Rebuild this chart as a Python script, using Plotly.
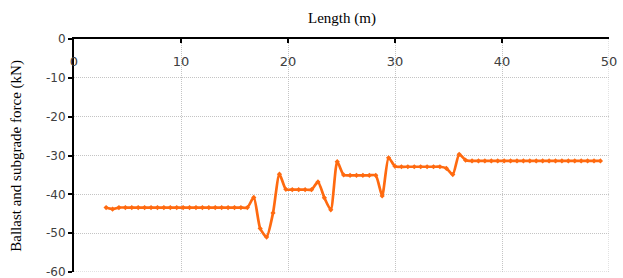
import plotly.graph_objects as go

# sleeper positions (m)
length_m = [round(3.0 + 0.6 * i, 1) for i in range(78)]
force_kN = [
    -43.4, -43.8, -43.4, -43.4, -43.4, -43.4, -43.4, -43.4, -43.4, -43.4,
    -43.4, -43.4, -43.4, -43.4, -43.4, -43.4, -43.4, -43.4, -43.4, -43.4,
    -43.4, -43.4, -43.4,
    -40.8, -48.8, -51.0, -44.8, -34.8, -38.7,
    -38.8, -38.8, -38.8, -38.8,
    -36.8, -40.9, -44.0, -31.6, -35.0,
    -35.1, -35.1, -35.1, -35.1, -35.1,
    -40.4, -30.6, -32.8,
    -32.9, -32.9, -32.9, -32.9, -32.9, -32.9, -32.9,
    -33.3, -34.9, -29.7, -31.2,
    -31.4, -31.4, -31.4, -31.4, -31.4, -31.4, -31.4, -31.4, -31.4, -31.4,
    -31.4, -31.4, -31.4, -31.4, -31.4, -31.4, -31.4, -31.4, -31.4, -31.4,
    -31.4,
]

x_ticks = [0, 10, 20, 30, 40, 50]
x_tick_labels = ["0", "10", "20", "30", "40", "50"]
y_ticks = [0, -10, -20, -30, -40, -50, -60]
y_tick_labels = ["0", "-10", "-20", "-30", "-40", "-50", "-60"]

fig = go.Figure()
fig.add_trace(go.Scatter(
    x=length_m, y=force_kN, mode="lines+markers",
    line=dict(color="#FF6A10", width=2.7, shape="spline", smoothing=0.6),
    marker=dict(color="#FF6A10", size=4, symbol="diamond"),
    showlegend=False, cliponaxis=False,
))

grid = "#C4C4C4"
gdash = "1px,1px"
serif = "'Liberation Serif', 'Times New Roman', serif"
fig.update_layout(
    width=623, height=278,
    margin=dict(l=74, r=14, t=39, b=6),
    paper_bgcolor="white", plot_bgcolor="white",
    xaxis=dict(
        range=[0, 50], tickvals=x_ticks, ticktext=x_tick_labels, side="top",
        ticklabelposition="inside", ticks="inside", ticklen=4, tickwidth=2,
        tickcolor="black", automargin=False, ticklabeloverflow="allow",
        ticklabelstandoff=14,
        showline=True, linecolor="black", linewidth=2,
        showgrid=True, gridcolor=grid, griddash=gdash, gridwidth=1,
        zeroline=False,
        tickfont=dict(family="DejaVu Sans", size=13, color="#404040"),
    ),
    yaxis=dict(
        range=[-60, 0], tickvals=y_ticks, ticktext=y_tick_labels,
        ticks="outside", ticklen=4, automargin=False,
        ticklabeloverflow="allow",
        tickwidth=2, tickcolor="black",
        showline=True, linecolor="black", linewidth=2,
        showgrid=True, gridcolor=grid, griddash=gdash, gridwidth=1,
        zeroline=False,
        tickfont=dict(family="DejaVu Sans", size=12, color="#404040"),
    ),
    annotations=[
        dict(text="Length (m)", x=0.5, y=1.09, xref="paper", yref="paper",
             xanchor="center", yanchor="middle", showarrow=False,
             font=dict(family=serif, size=15, color="black")),
        dict(text="Ballast and subgrade force (kN)", x=-0.108, y=0.5,
             xref="paper", yref="paper", textangle=-90,
             xanchor="center", yanchor="middle", showarrow=False,
             font=dict(family=serif, size=15, color="black")),
    ],
)
# right and bottom dotted border lines
fig.add_shape(type="line", xref="x", yref="y", x0=50, x1=50, y0=-60, y1=0,
              line=dict(color=grid, width=1, dash=gdash))
fig.add_shape(type="line", xref="x", yref="y", x0=0, x1=50, y0=-60, y1=-60,
              line=dict(color=grid, width=1, dash=gdash))

fig.write_html(
    "out.html",
    config={"displayModeBar": False},
    post_script="document.body.style.margin='0px';document.body.style.padding='0px';",
)
